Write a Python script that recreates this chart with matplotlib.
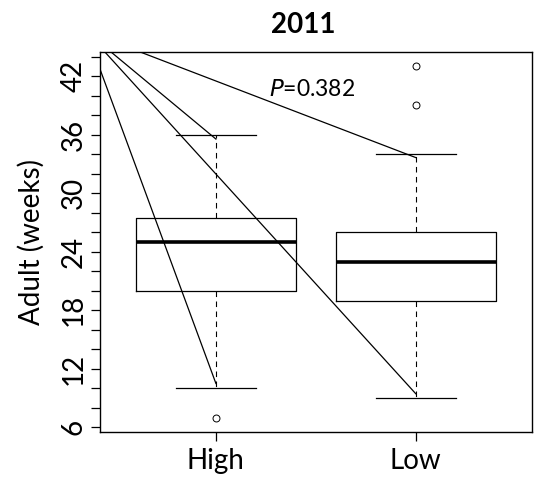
import matplotlib
matplotlib.use("Agg")
import matplotlib.pyplot as plt

# box stats
groups = ["High", "Low"]
lower_whisker = [10, 9]
q1 = [20, 19]
median = [25, 23]
q3 = [27.5, 26]
upper_whisker = [36, 34]
outliers = [[7], [39, 43]]

# odd lines from a point above the top-left corner to the whisker ends
line_origin = (0.35, 46.6)
line_ends_x = [1, 1, 2, 2]
line_ends_y = [10.5, 35.55, 33.65, 9.45]

ytick_values = list(range(6, 45, 2))
ytick_labels = [str(v) if v % 6 == 0 and v <= 42 else "" for v in ytick_values]

plt.rcParams['font.family'] = ['Lato', 'DejaVu Sans']

fig = plt.figure(figsize=(5.37, 4.84), dpi=100)
ax = fig.add_axes([100 / 537, 1 - 431.7 / 484, 431.7 / 537, 379.4 / 484])

stats = []
for i in range(len(groups)):
    stats.append({
        "label": groups[i],
        "whislo": lower_whisker[i],
        "q1": q1[i],
        "med": median[i],
        "q3": q3[i],
        "whishi": upper_whisker[i],
        "fliers": outliers[i],
    })

ax.bxp(stats, positions=[1, 2], widths=0.8, capwidths=0.4,
       boxprops=dict(color="black", linewidth=0.9),
       medianprops=dict(color="black", linewidth=2.6, solid_capstyle="butt"),
       whiskerprops=dict(color="black", linewidth=0.8, linestyle=(0, (5, 4))),
       capprops=dict(color="black", linewidth=0.9),
       flierprops=dict(marker="o", markersize=5, markerfacecolor="none",
                       markeredgecolor="black", markeredgewidth=0.7))

for xe, ye in zip(line_ends_x, line_ends_y):
    ax.plot([line_origin[0], xe], [line_origin[1], ye], color="black", linewidth=0.9)

ax.text(1.48, 40.6, r"$\it{P}$=0.382", ha="center", va="center", fontsize=16.5)

ax.set_xlim(0.42, 2.58)
ax.set_ylim(5.56, 44.44)
ax.set_xticks([1, 2])
ax.set_xticklabels(groups, fontsize=20)
ax.set_yticks(ytick_values)
ax.set_yticklabels(ytick_labels, fontsize=20, rotation=90, va="center")
ax.tick_params(axis="both", length=9.3 * 0.72, width=0.9)
ax.tick_params(axis="x", pad=5)
ax.tick_params(axis="y", pad=3)
for s in ax.spines.values():
    s.set_linewidth(1.0)

ax.set_ylabel("Adult (weeks)", fontsize=20)
ax.yaxis.set_label_coords(-0.128, 0.5)

fig.text(303 / 537, 1 - 25 / 484, "2011", ha="center", va="center",
         fontsize=20, fontweight="bold")

fig.savefig("out.png", dpi=100)
